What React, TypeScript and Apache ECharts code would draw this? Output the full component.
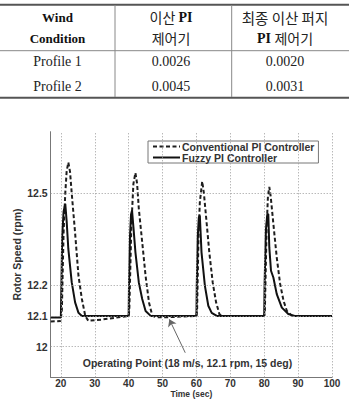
import React, { useEffect, useRef } from "react";
import * as echarts from "echarts";

// ---- table data ----
const tableRowLabels = ["Profile 1", "Profile 2"];
const discretePI = ["0.0026", "0.0045"];
const discreteFuzzyPI = ["0.0020", "0.0031"];

// ---- chart data ----
const seriesNames = ["Conventional PI Controller", "Fuzzy PI Controller"];
const xTickLabels = [20, 30, 40, 50, 60, 70, 80, 90, 100];
const yTickLabels = [12, 12.1, 12.2, 12.5];
const annotationText = "Operating Point (18 m/s, 12.1 rpm, 15 deg)";

const conventionalPI: [number, number][] = [
  [17, 12.082], [19.9, 12.083], [20.3, 12.12], [20.8, 12.37], [21.3, 12.5], [21.7, 12.57],
  [22.2, 12.6], [22.7, 12.57], [23.2, 12.5], [24.2, 12.37], [25.2, 12.23], [26.2, 12.155],
  [27.2, 12.1], [28.1, 12.084], [32, 12.088], [36, 12.094], [40, 12.1],
  [40.2, 12.12], [40.8, 12.394], [41.4, 12.53], [42.0, 12.566], [42.5, 12.53], [43.0, 12.449],
  [44.0, 12.34], [45.0, 12.23], [46.0, 12.144], [47.0, 12.1], [48, 12.096], [52, 12.096],
  [56, 12.098], [60, 12.1],
  [60.2, 12.12], [60.6, 12.35], [61.0, 12.47], [61.7, 12.538], [62.2, 12.5], [62.9, 12.416],
  [63.8, 12.307], [64.8, 12.209], [65.8, 12.144], [66.8, 12.105], [67.8, 12.1], [80, 12.1],
  [80.2, 12.12], [80.7, 12.38], [81.1, 12.49], [81.5, 12.52], [81.9, 12.49], [82.7, 12.4],
  [83.7, 12.29], [84.7, 12.204], [85.7, 12.149], [86.7, 12.116], [88.2, 12.1], [100, 12.1],
];

const fuzzyPI: [number, number][] = [
  [17, 12.095], [20.0, 12.095], [20.15, 12.2], [20.4, 12.36], [20.8, 12.44], [21.3, 12.465],
  [21.7, 12.41], [22.2, 12.318], [23.2, 12.21], [24.2, 12.144], [25.2, 12.11], [26.2, 12.1],
  [40, 12.1],
  [40.1, 12.2], [40.4, 12.36], [40.7, 12.43], [41.0, 12.443], [41.4, 12.39], [42.0, 12.307],
  [43.0, 12.209], [44.0, 12.155], [45, 12.116], [46.5, 12.1], [60, 12.1],
  [60.1, 12.2], [60.4, 12.36], [60.7, 12.42], [61.0, 12.427], [61.5, 12.307], [62.5, 12.198],
  [63.5, 12.133], [64.5, 12.11], [66, 12.1], [80, 12.1],
  [80.1, 12.2], [80.5, 12.38], [80.9, 12.43], [81.2, 12.432], [81.5, 12.323], [82.0, 12.247],
  [82.7, 12.225], [83.7, 12.171], [85.2, 12.127], [87.1, 12.106], [89, 12.1], [100, 12.1],
];

// arrow of the annotation: tail -> head (data coordinates)
const arrowTail: [number, number] = [56.7, 11.98];
const arrowHead: [number, number] = [52.0, 12.089];

const SANS = "'Liberation Sans', Arial, sans-serif";
const SERIF = "'Liberation Serif', 'Times New Roman', serif";
const KR = "'Noto Sans CJK KR', sans-serif";

export default function App() {
  const ref = useRef<HTMLDivElement>(null);

  useEffect(() => {
    if (!ref.current) return;
    const chart = echarts.init(ref.current, null, { renderer: "svg" });

    const col = [57.5, 171, 285];
    const rich = {
      k: { fontFamily: KR, fontSize: 14, fill: "#222", color: "#222" },
      b: { fontFamily: SERIF, fontWeight: "bold", fontSize: 14, fill: "#111", color: "#111" },
    };
    const txt = (x: number, y: number, text: string, extra: any = {}) => ({
      type: "text",
      x,
      y,
      style: {
        text,
        align: "center",
        verticalAlign: "middle",
        fontFamily: SERIF,
        fontSize: 14,
        fill: "#222",
        ...extra,
      },
    });

    const tableGraphics: any[] = [
      { type: "line", shape: { x1: 0, y1: 4.7, x2: 349, y2: 4.7 }, style: { stroke: "#555", lineWidth: 2 } },
      { type: "line", shape: { x1: 0, y1: 50.7, x2: 349, y2: 50.7 }, style: { stroke: "#888", lineWidth: 1 } },
      { type: "line", shape: { x1: 0, y1: 97.7, x2: 349, y2: 97.7 }, style: { stroke: "#555", lineWidth: 2 } },
      { type: "line", shape: { x1: 115, y1: 5, x2: 115, y2: 97 }, style: { stroke: "#888", lineWidth: 1 } },
      { type: "line", shape: { x1: 231.7, y1: 5, x2: 231.7, y2: 97 }, style: { stroke: "#888", lineWidth: 1 } },
      txt(col[0], 17, "Wind", { fontWeight: "bold", fontSize: 13, fill: "#111" }),
      txt(col[0], 38, "Condition", { fontWeight: "bold", fontSize: 13, fill: "#111" }),
      txt(col[1], 17, "{k|이산 }{b|PI}", { rich }),
      txt(col[1], 38, "{k|제어기}", { rich }),
      txt(col[2], 17, "{k|최종 이산 퍼지}", { rich: { ...rich, k: { ...rich.k, fontSize: 14.5 } } }),
      txt(col[2], 38, "{b|PI} {k|제어기}", { rich }),
    ];
    tableRowLabels.forEach((lab, i) => {
      const y = 61 + i * 25;
      tableGraphics.push(txt(col[0], y, lab));
      tableGraphics.push(txt(col[1], y, discretePI[i]));
      tableGraphics.push(txt(col[2], y, discreteFuzzyPI[i]));
    });

    const axisFont = { fontFamily: SANS, fontWeight: "bold", fontSize: 10.5, color: "#333" };
    const gridStyle = { color: "#9a9a9a", type: [1, 2], width: 1 };

    chart.setOption({
      animation: false,
      backgroundColor: "#fff",
      grid: {
        left: 50.7,
        right: 17,
        top: 131.7,
        bottom: 21.7,
        containLabel: false,
        outerBoundsMode: "none",
      },
      legend: {
        data: seriesNames,
        orient: "vertical",
        left: 148,
        top: 141,
        padding: [0, 4, 0, 4],
        itemGap: 0,
        itemWidth: 27,
        itemHeight: 13.5,
        backgroundColor: "#fff",
        borderColor: "#777",
        borderWidth: 1,
        borderRadius: 0,
        itemStyle: { opacity: 0 },
        textStyle: { ...axisFont, fontSize: 10.5, padding: [0, 0, 0, -3] },
      },
      xAxis: {
        type: "value",
        min: 17,
        max: 100,
        interval: 1,
        name: "Time (sec)",
        nameLocation: "middle",
        nameGap: 12.8,
        nameMoveOverlap: false,
        nameTextStyle: { ...axisFont, fontSize: 8.5, lineHeight: 8.5 },
        axisLine: { show: true, lineStyle: { color: "#777", width: 1 } },
        axisTick: { show: false },
        splitLine: { show: false },
        axisLabel: {
          ...axisFont,
          fontSize: 10,
          lineHeight: 10,
          margin: 1,
          formatter: (v: number) => (xTickLabels.includes(Math.round(v)) ? String(Math.round(v)) : ""),
        },
      },
      yAxis: {
        type: "value",
        min: 11.9,
        max: 12.7,
        interval: 0.1,
        name: "Rotor Speed (rpm)",
        nameLocation: "middle",
        nameGap: 28,
        nameMoveOverlap: false,
        nameTextStyle: axisFont,
        axisLine: { show: true, lineStyle: { color: "#777", width: 1 } },
        axisTick: { show: false },
        splitLine: { show: false },
        axisLabel: {
          ...axisFont,
          margin: 3,
          formatter: (v: number) => {
            const r = Math.round(v * 10) / 10;
            return yTickLabels.some((t) => Math.abs(t - r) < 1e-6) ? String(r) : "";
          },
        },
      },
      series: [
        {
          name: "__grid",
          type: "line",
          data: [],
          silent: true,
          z: 1,
          markLine: {
            silent: true,
            symbol: "none",
            label: { show: false },
            lineStyle: gridStyle,
            data: [
              ...xTickLabels.map((x) => ({ xAxis: x })),
              ...yTickLabels.map((y) => ({ yAxis: y })),
            ],
          },
        },
        {
          name: seriesNames[0],
          type: "line",
          data: conventionalPI,
          symbol: "none",
          z: 3,
          lineStyle: { color: "#1e1e1e", width: 2, type: [4, 2.5] },
          itemStyle: { color: "#1e1e1e" },
        },
        {
          name: seriesNames[1],
          type: "line",
          data: fuzzyPI,
          symbol: "none",
          z: 4,
          lineStyle: { color: "#111", width: 2, type: "solid" },
          itemStyle: { color: "#111" },
        },
        {
          name: "__arrow",
          type: "line",
          data: [],
          silent: true,
          z: 5,
          markLine: {
            silent: true,
            symbol: ["none", "arrow"],
            symbolSize: 7,
            label: { show: false },
            lineStyle: { color: "#666", type: "solid", width: 1 },
            data: [[{ coord: arrowTail }, { coord: arrowHead }]],
          },
        },
      ],
      graphic: [
        ...tableGraphics,
        {
          type: "text",
          x: 187.5,
          y: 362.7,
          z: 10,
          style: {
            text: annotationText,
            align: "center",
            verticalAlign: "middle",
            fontFamily: SANS,
            fontWeight: "bold",
            fontSize: 10.5,
            fill: "#333",
          },
        },
      ],
    });

    return () => chart.dispose();
  }, []);

  return (
    <div
      ref={ref}
      style={{ position: "fixed", left: 0, top: 0, width: 349, height: 399, background: "#fff" }}
    />
  );
}
